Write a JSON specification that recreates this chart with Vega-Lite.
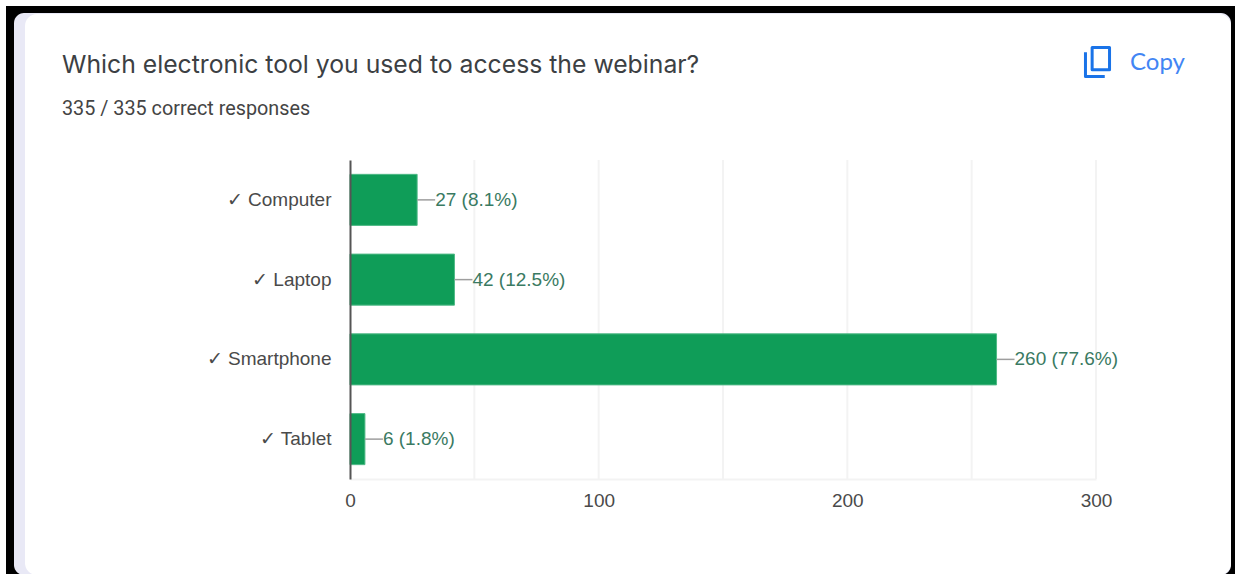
{
  "$schema": "https://vega.github.io/schema/vega-lite/v6.json",
  "width": 746,
  "height": 319,
  "autosize": "none",
  "padding": {"left": 350, "top": 160, "right": 139, "bottom": 95},
  "background": "white",
  "config": {"view": {"stroke": null}, "font": "Liberation Sans"},
  "datasets": {
    "answers": [
      {"tool": "✓ Computer", "responses": 27, "label": "27 (8.1%)"},
      {"tool": "✓ Laptop", "responses": 42, "label": "42 (12.5%)"},
      {"tool": "✓ Smartphone", "responses": 260, "label": "260 (77.6%)"},
      {"tool": "✓ Tablet", "responses": 6, "label": "6 (1.8%)"}
    ],
    "gridTicks": [{"tick": 50}, {"tick": 100}, {"tick": 150}, {"tick": 200}, {"tick": 250}, {"tick": 300}],
    "chrome": [{"item": "card"}]
  },
  "layer": [
    {
      "description": "Screenshot frame: black edge, lavender page strip, white card",
      "data": {"name": "chrome"},
      "mark": {"type": "rect", "fill": "#000000"},
      "encoding": {
        "x": {"value": -344}, "x2": {"value": 885},
        "y": {"value": -154}, "y2": {"value": 414}
      }
    },
    {
      "data": {"name": "chrome"},
      "mark": {"type": "rect", "fill": "#e9e9f6", "cornerRadius": 10},
      "encoding": {
        "x": {"value": -336}, "x2": {"value": 881},
        "y": {"value": -147}, "y2": {"value": 415}
      }
    },
    {
      "data": {"name": "chrome"},
      "mark": {"type": "rect", "fill": "#ffffff", "cornerRadius": 12},
      "encoding": {
        "x": {"value": -325}, "x2": {"value": 881},
        "y": {"value": -146}, "y2": {"value": 415}
      }
    },
    {
      "description": "Vertical gridlines every 50 responses",
      "data": {"name": "gridTicks"},
      "mark": {"type": "rule", "color": "#f3f3f3", "strokeWidth": 2},
      "encoding": {
        "x": {
          "field": "tick", "type": "quantitative",
          "scale": {"domain": [0, 300]},
          "axis": {
            "title": null, "ticks": false, "grid": false, "zindex": 1,
            "values": [0, 100, 200, 300], "labelFlush": false,
            "domainColor": "#f3f3f3", "domainWidth": 2,
            "labelFont": "Liberation Sans", "labelFontSize": 19,
            "labelColor": "#4a4a4a", "labelPadding": 12
          }
        }
      }
    },
    {
      "data": {"name": "answers"},
      "mark": {"type": "bar", "fill": "#0f9d58", "stroke": "#4fb986", "strokeWidth": 1},
      "encoding": {
        "y": {
          "field": "tool", "type": "nominal", "sort": null,
          "scale": {"paddingInner": 0.36, "paddingOuter": 0.18},
          "axis": {
            "title": null, "ticks": false, "zindex": 1,
            "domainColor": "#555555", "domainWidth": 2,
            "labelFont": "Liberation Sans", "labelFontSize": 19,
            "labelColor": "#4a4a4a", "labelPadding": 19, "labelLimit": 300
          }
        },
        "x": {"field": "responses", "type": "quantitative"}
      }
    },
    {
      "description": "Leader line from each bar to its value label",
      "data": {"name": "answers"},
      "mark": {"type": "rule", "color": "#9e9e9e", "strokeWidth": 1.5, "x2Offset": 18},
      "encoding": {
        "y": {"field": "tool", "type": "nominal", "sort": null},
        "x": {"field": "responses", "type": "quantitative"},
        "x2": {"field": "responses"}
      }
    },
    {
      "data": {"name": "answers"},
      "mark": {"type": "text", "align": "left", "baseline": "middle", "dx": 18, "font": "Liberation Sans", "fontSize": 19, "fill": "#3a7a62"},
      "encoding": {
        "y": {"field": "tool", "type": "nominal", "sort": null},
        "x": {"field": "responses", "type": "quantitative"},
        "text": {"field": "label"}
      }
    },
    {
      "description": "Card heading and response count",
      "data": {"name": "chrome"},
      "mark": {"type": "text", "text": "Which electronic tool you used to access the webinar?", "align": "left", "baseline": "alphabetic", "font": "Inter", "fontSize": 24.75, "fill": "#3c4043"},
      "encoding": {"x": {"value": -288}, "y": {"value": -87}}
    },
    {
      "data": {"name": "chrome"},
      "mark": {"type": "text", "text": "335 / 335 correct responses", "align": "left", "baseline": "alphabetic", "font": "Roboto", "fontSize": 19.8, "fill": "#444444"},
      "encoding": {"x": {"value": -288}, "y": {"value": -45}}
    },
    {
      "description": "Copy button: icon and caption",
      "data": {"name": "chrome"},
      "mark": {
        "type": "point", "filled": false, "stroke": "#1a73e8", "strokeWidth": 3, "strokeJoin": "round", "opacity": 1,
        "shape": "M -0.37 -1 L 0.83 -1 L 0.83 0.53 L -0.37 0.53 Z M -0.83 -0.67 L -0.83 1 L 0.5 1",
        "size": 841
      },
      "encoding": {"x": {"value": 747.5}, "y": {"value": -98}}
    },
    {
      "data": {"name": "chrome"},
      "mark": {"type": "text", "text": "Copy", "align": "left", "baseline": "middle", "font": "Lato", "fontSize": 24, "fill": "#4285f4"},
      "encoding": {"x": {"value": 780}, "y": {"value": -97}}
    }
  ]
}
